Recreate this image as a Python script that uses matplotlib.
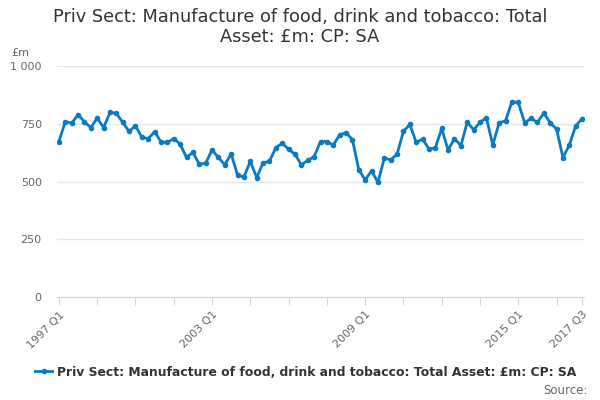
import matplotlib.pyplot as plt

# quarterly values, 1997 Q1 .. 2017 Q3
values = [
    673, 759, 753, 789, 759, 733, 775, 733, 799, 795,
    756, 717, 741, 691, 686, 715, 672, 669, 686, 662,
    604, 626, 575, 579, 636, 604, 572, 620, 527, 520,
    587, 517, 581, 587, 647, 665, 640, 618, 572, 591,
    608, 673, 673, 658, 702, 712, 681, 551, 507, 546,
    496, 601, 594, 618, 717, 747, 669, 684, 640, 646,
    730, 636, 686, 655, 757, 724, 756, 776, 658, 754,
    763, 845, 842, 754, 773, 756, 796, 754, 727, 603,
    658, 741, 772,
]
quarters = [f"{1997 + i // 4} Q{i % 4 + 1}" for i in range(len(values))]
label_quarters = ["1997 Q1", "2003 Q1", "2009 Q1", "2015 Q1", "2017 Q3"]
y_ticks = [0, 250, 500, 750, 1000]
y_labels = ["0", "250", "500", "750", "1 000"]

series_name = "Priv Sect: Manufacture of food, drink and tobacco: Total Asset: £m: CP: SA"
line_color = "#0a7bc1"
grey_text = "#666666"
axis_color = "#ccd6eb"

fig = plt.figure(figsize=(6, 4), dpi=100)
ax = fig.add_axes([57 / 600, 103 / 400, 527 / 600, 231 / 400])

x = list(range(len(values)))
line, = ax.plot(x, values, color=line_color, linewidth=2, marker="o",
                markersize=3, zorder=3)

ax.set_xlim(-0.3, len(values) - 0.7)
ax.set_ylim(0, 1000)

# tick marks every 6 quarters, labels only on a few
tick_pos = list(range(0, len(values), 6)) + [len(values) - 1]
tick_lab = [quarters[p] if quarters[p] in label_quarters else "" for p in tick_pos]
ax.set_xticks(tick_pos)
ax.set_xticklabels(tick_lab, rotation=45, ha="right", rotation_mode="anchor",
                   fontsize=8, color=grey_text)
ax.tick_params(axis="x", length=6, color=axis_color, pad=3)

ax.set_yticks(y_ticks)
ax.set_yticklabels(y_labels, fontsize=8, color=grey_text)
ax.tick_params(axis="y", length=0, pad=11)
ax.yaxis.grid(True, color="#e6e6e6", linewidth=1)
ax.set_axisbelow(True)

for side in ["top", "right", "left"]:
    ax.spines[side].set_visible(False)
ax.spines["bottom"].set_color(axis_color)

fig.text(0.5, 0.98, "Priv Sect: Manufacture of food, drink and tobacco: Total\nAsset: £m: CP: SA",
         ha="center", va="top", fontsize=12.8, color="#333333", linespacing=1.15)
fig.text(11 / 600, 1 - 53 / 400, "£m", fontsize=8, color=grey_text, va="center")

fig.legend([line], [series_name], loc="center", bbox_to_anchor=(0.51, 1 - 372 / 400),
           frameon=False, handlelength=1.4, handletextpad=0.4,
           prop={"weight": "bold", "size": 8.9}, labelcolor="#333333")
fig.text(588 / 600, 1 - 390 / 400, "Source:", ha="right", va="center",
         fontsize=8.5, color=grey_text)

fig.savefig("out.png", dpi=100)
